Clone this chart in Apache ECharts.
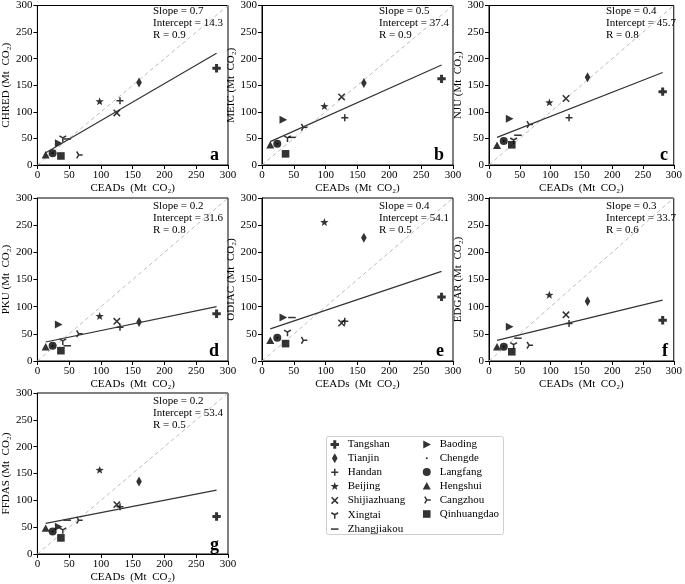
<!DOCTYPE html>
<html><head><meta charset="utf-8">
<script src="https://cdn.jsdelivr.net/npm/echarts@6/dist/echarts.min.js"></script>
<style>html,body{margin:0;padding:0;background:#fff}#c{width:685px;height:584px}</style>
</head><body><div id="c"></div>
<script>
// ---------------- data ----------------
const cities = ['Tangshan','Tianjin','Handan','Beijing','Shijiazhuang','Xingtai','Zhangjiakou','Baoding','Chengde','Langfang','Hengshui','Cangzhou','Qinhuangdao'];
const ceads  = [282,160,130,98,125,40,47,33,24,24,13,65,37];
const chred  = [182,155,121,119,98,51,49,41,22,22,19,19,17];
const meic   = [162,154,89,110,128,51,52,85,40,40,38,71,21];
const nju    = [138,165,89,117,125,47,56,87,45,45,37,76,38];
const pku    = [87,72,62,82,73,37,28,67,28,28,26,50,19];
const odiac  = [118,227,73,255,70,53,80,80,43,43,38,38,32];
const edgar  = [75,110,69,121,85,30,42,63,26,26,26,29,17];
const ffdas  = [70,135,88,156,92,45,63,51,42,42,48,63,30];
const datasetNames = ['CHRED','MEIC','NJU','PKU','ODIAC','EDGAR','FFDAS'];
const slopes     = ['0.7','0.5','0.4','0.2','0.4','0.3','0.2'];
const intercepts = ['14.3','37.4','45.7','31.6','54.1','33.7','53.4'];
const rValues    = ['0.9','0.9','0.8','0.8','0.5','0.6','0.5'];
const panelLetters = ['a','b','c','d','e','f','g'];
const fitX  = [13, 282];
const fitA  = [23, 210];
const fitB  = [44, 188];
const fitC  = [52, 174];
const fitD  = [35, 100];
const fitE  = [59, 165];
const fitF  = [38, 112];
const fitG  = [57, 119];
const identity = [0, 300];
const axisMin = 0, axisMax = 300, axisStep = 50;

// ---------------- build ----------------
const values = [chred, meic, nju, pku, odiac, edgar, ffdas];
const fits = [fitA, fitB, fitC, fitD, fitE, fitF, fitG];
const FONT = '"Liberation Serif","Times New Roman",serif';
const panels = [
  {left:36, top:3,   width:192, height:162},
  {left:262,top:3,   width:191, height:162},
  {left:489,top:3,   width:188, height:162},
  {left:36, top:198, width:192, height:163},
  {left:262,top:198, width:191, height:163},
  {left:489,top:198, width:188, height:163},
  {left:36, top:393, width:192, height:162}
];
const markers = {
  Tangshan:    {p:'M3.5,0.8H6.5V3.5H9.2V6.5H6.5V9.2H3.5V6.5H0.8V3.5H3.5Z', s:false},
  Tianjin:     {p:'M5,0L7.8,5L5,10L2.2,5Z', s:false},
  Handan:      {p:'M5,1.5V8.5M1.5,5H8.5', s:true},
  Beijing:     {p:'M5,0.6L6.06,3.54L9.18,3.64L6.72,5.56L7.59,8.56L5,6.8L2.41,8.56L3.28,5.56L0.82,3.64L3.94,3.54Z', s:false},
  Shijiazhuang:{p:'M1.8,1.8L8.2,8.2M8.2,1.8L1.8,8.2', s:true},
  Xingtai:     {p:'M5,5V9M5,5L1.6,3M5,5L8.4,3', s:true},
  Zhangjiakou: {p:'M1.2,5H8.8', s:true},
  Baoding:     {p:'M1.5,1L9.2,5L1.5,9Z', s:false},
  Chengde:     {p:'M6,5A1,1,0,1,1,4,5A1,1,0,1,1,6,5Z', s:false},
  Langfang:    {p:'M9,5A4,4,0,1,1,1,5A4,4,0,1,1,9,5Z', s:false},
  Hengshui:    {p:'M5,1.2L9,8.6L1,8.6Z', s:false},
  Cangzhou:    {p:'M5,5H9M5,5L3,1.6M5,5L3,8.4', s:true},
  Qinhuangdao: {p:'M1.2,1.2H8.8V8.8H1.2Z', s:false}
};
const sym = c => 'path://M0,0M10,10' + markers[c].p;
const STROKE_W = 1.5;

const grid = [], xAxis = [], yAxis = [], series = [], graphic = [];
panels.forEach((p, i) => {
  grid.push({left:p.left, top:p.top, width:p.width, height:p.height, show:true,
             borderColor:'#000', borderWidth:1, backgroundColor:'transparent', containLabel:false});
  const axisCommon = {
    gridIndex:i, type:'value', min:axisMin, max:axisMax, interval:axisStep,
    nameLocation:'middle',
    nameTextStyle:{fontFamily:FONT, fontSize:11, color:'#000'},
    axisLine:{show:true, onZero:false, lineStyle:{color:'#000', width:1}},
    axisTick:{show:true, inside:false, length:4, lineStyle:{color:'#000', width:1}},
    axisLabel:{fontFamily:FONT, fontSize:11, color:'#000', margin:5},
    splitLine:{show:false}
  };
  xAxis.push(Object.assign({}, axisCommon, {name:'CEADs  (Mt  CO\u2082)', nameGap:18}));
  yAxis.push(Object.assign({}, axisCommon, {name:datasetNames[i] + ' (Mt  CO\u2082)', nameGap:23}));
  series.push({type:'line', xAxisIndex:i, yAxisIndex:i, data:identity.map(v => [v, v]),
               symbol:'none', silent:true, z:1, animation:false,
               lineStyle:{color:'#bdbdbd', width:1, type:[4,3]}});
  cities.forEach((c, k) => {
    series.push({type:'scatter', name:c, xAxisIndex:i, yAxisIndex:i,
                 data:[[ceads[k], values[i][k]]], symbol:sym(c), symbolSize:10, z:3,
                 animation:false, silent:true,
                 itemStyle:{color:'#000', borderColor:'#000', borderWidth: markers[c].s ? STROKE_W : 0}});
  });
  series.push({type:'line', xAxisIndex:i, yAxisIndex:i, data:fitX.map((x, j) => [x, fits[i][j]]),
               symbol:'none', silent:true, z:4, animation:false,
               lineStyle:{color:'#333', width:1.2}});
  const lines = ['Slope = ' + slopes[i], 'Intercept = ' + intercepts[i], 'R = ' + rValues[i]];
  lines.forEach((t, j) => graphic.push({type:'text', x:p.left + 117, y:p.top + 8 + j * 12, z:10,
    style:{text:t, font:'11px ' + FONT, fill:'#000', textAlign:'left', align:'left',
           textVerticalAlign:'middle', verticalAlign:'middle'}}));
  graphic.push({type:'text', x:p.left + p.width - 9, y:p.top + p.height - 1, z:10,
    style:{text:panelLetters[i], font:'bold 18px ' + FONT, fill:'#000', textAlign:'right', align:'right',
           textVerticalAlign:'bottom', verticalAlign:'bottom'}});
});
graphic.push({type:'rect', z:-1, shape:{x:326.5, y:436.5, width:177, height:98, r:2},
              style:{fill:'#fff', stroke:'#cfcfcf', lineWidth:1}});

const legendItem = c => ({name:c, itemStyle:{borderWidth: markers[c].s ? STROKE_W : 0}});
const legendCommon = {orient:'vertical', top:439, itemWidth:16, itemHeight:10, itemGap:2.8, padding:0,
  selectedMode:false, textStyle:{fontFamily:FONT, fontSize:11, color:'#000'}};
const legend = [
  Object.assign({}, legendCommon, {left:329, data:cities.slice(0, 7).map(legendItem)}),
  Object.assign({}, legendCommon, {left:421, data:cities.slice(7).map(legendItem)})
];

const chart = echarts.init(document.getElementById('c'), null, {renderer:'canvas'});
chart.setOption({animation:false, backgroundColor:'#fff', grid, xAxis, yAxis, series, legend, graphic});
</script>
</body></html>
